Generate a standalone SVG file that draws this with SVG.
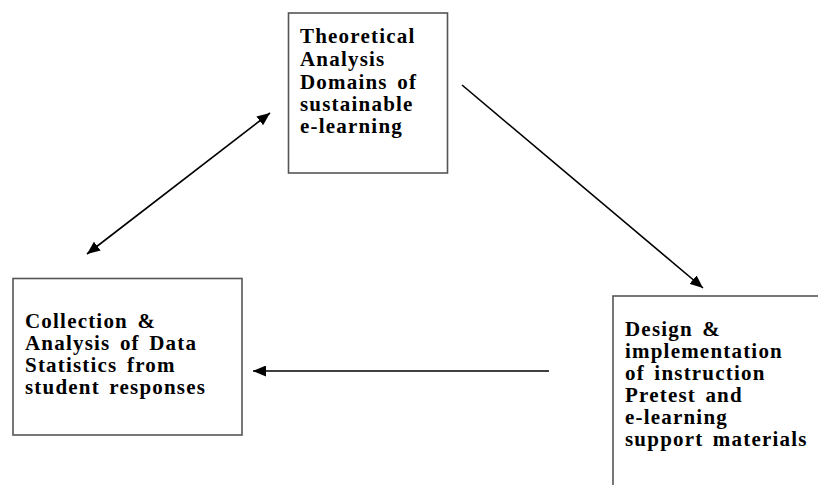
<svg xmlns="http://www.w3.org/2000/svg" width="818" height="485" viewBox="0 0 818 485">
  <style>
    .box { fill: #ffffff; stroke: #555555; stroke-width: 1.6; }
    .lbl { font-family: "Liberation Serif", "Times New Roman", serif; font-weight: bold; font-size: 21px; letter-spacing: 1.2px; word-spacing: 3px; fill: #000000; }
    .conn { stroke: #000000; stroke-width: 1.6; fill: none; }
  </style>
  <defs>
    <marker id="ah" markerUnits="userSpaceOnUse" viewBox="0 0 13 11" refX="13" refY="5.5" markerWidth="13" markerHeight="11" orient="auto-start-reverse">
      <path d="M0,0 L13,5.5 L0,11 z" fill="#000000"/>
    </marker>
  </defs>

  <g id="node-theory">
    <rect class="box" x="288.5" y="13" width="159" height="160"/>
    <text class="lbl">
      <tspan x="300" y="43">Theoretical</tspan>
      <tspan x="300" y="66">Analysis</tspan>
      <tspan x="300" y="89">Domains of</tspan>
      <tspan x="300" y="111">sustainable</tspan>
      <tspan x="300" y="133">e-learning</tspan>
    </text>
  </g>

  <g id="node-collection">
    <rect class="box" x="13" y="278.5" width="229" height="156.5"/>
    <text class="lbl">
      <tspan x="25" y="328">Collection &amp;</tspan>
      <tspan x="25" y="350">Analysis of Data</tspan>
      <tspan x="25" y="372">Statistics from</tspan>
      <tspan x="25" y="394">student responses</tspan>
    </text>
  </g>

  <g id="node-design">
    <rect class="box" x="613" y="296" width="240" height="220"/>
    <text class="lbl">
      <tspan x="625" y="336">Design &amp;</tspan>
      <tspan x="625" y="358">implementation</tspan>
      <tspan x="625" y="380">of instruction</tspan>
      <tspan x="625" y="402">Pretest and</tspan>
      <tspan x="625" y="424">e-learning</tspan>
      <tspan x="625" y="446">support materials</tspan>
    </text>
  </g>

  <g id="connectors">
    <line class="conn" x1="87" y1="254" x2="270" y2="113" marker-start="url(#ah)" marker-end="url(#ah)"/>
    <line class="conn" x1="462" y1="85" x2="703" y2="288" marker-end="url(#ah)"/>
    <line class="conn" x1="549" y1="371" x2="253" y2="371" stroke-width="2" marker-end="url(#ah)"/>
  </g>
</svg>
